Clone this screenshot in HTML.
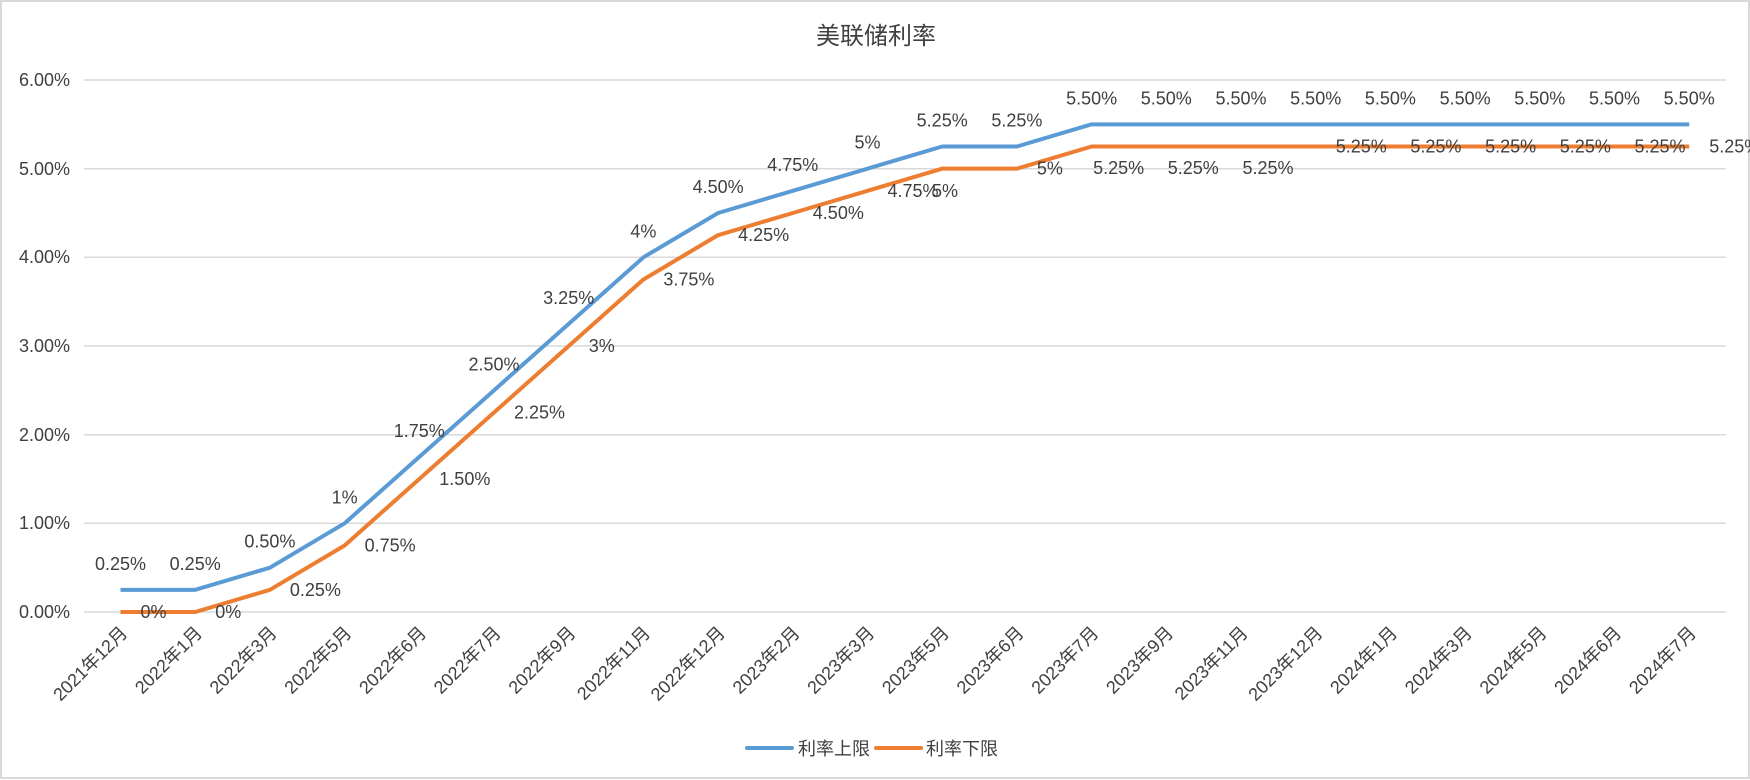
<!DOCTYPE html>
<html><head><meta charset="utf-8"><style>
html,body{margin:0;padding:0;background:#fff}
svg{display:block}
text{font-family:"Liberation Sans","Noto Sans CJK SC",sans-serif;fill:#404040}
</style></head><body>
<svg width="1750" height="780" xmlns="http://www.w3.org/2000/svg">
<rect x="1" y="1" width="1748" height="777" fill="#fff" stroke="#d9d9d9" stroke-width="2"/>
<text x="876" y="44" font-size="24" text-anchor="middle" fill="#595959">美联储利率</text>
<g stroke="#d9d9d9" stroke-width="1.5">
<line x1="84" x2="1726" y1="80" y2="80"/>
<line x1="84" x2="1726" y1="168.7" y2="168.7"/>
<line x1="84" x2="1726" y1="257.3" y2="257.3"/>
<line x1="84" x2="1726" y1="346" y2="346"/>
<line x1="84" x2="1726" y1="434.7" y2="434.7"/>
<line x1="84" x2="1726" y1="523.3" y2="523.3"/>
<line x1="84" x2="1726" y1="612" y2="612"/>
</g>
<g font-size="18" text-anchor="end">
<text x="70" y="86">6.00%</text>
<text x="70" y="175">5.00%</text>
<text x="70" y="263">4.00%</text>
<text x="70" y="352">3.00%</text>
<text x="70" y="441">2.00%</text>
<text x="70" y="529">1.00%</text>
<text x="70" y="618">0.00%</text>
</g>
<script>
(function(){
var ns="http://www.w3.org/2000/svg",svg=document.currentScript.parentNode;
var cats=["2021年12月","2022年1月","2022年3月","2022年5月","2022年6月","2022年7月","2022年9月","2022年11月","2022年12月","2023年2月","2023年3月","2023年5月","2023年6月","2023年7月","2023年9月","2023年11月","2023年12月","2024年1月","2024年3月","2024年5月","2024年6月","2024年7月"];
var up=[0.25,0.25,0.5,1,1.75,2.5,3.25,4,4.5,4.75,5,5.25,5.25,5.5,5.5,5.5,5.5,5.5,5.5,5.5,5.5,5.5];
var lo=[0,0,0.25,0.75,1.5,2.25,3,3.75,4.25,4.5,4.75,5,5,5.25,5.25,5.25,5.25,5.25,5.25,5.25,5.25,5.25];
function X(i){return 120.5+74.7*i}
function Y(v){return 612-88.67*v}
function fmt(v){var s=v.toFixed(2);if(s.slice(-3)==".00")return v.toFixed(0)+"%";return s+"%"}
function el(t,a,txt){var e=document.createElementNS(ns,t);for(var k in a)e.setAttribute(k,a[k]);if(txt!=null)e.textContent=txt;svg.appendChild(e);return e}
var pu=[],pl=[];
for(var i=0;i<22;i++){pu.push(X(i)+","+Y(up[i]));pl.push(X(i)+","+Y(lo[i]));}
el("polyline",{points:pl.join(" "),fill:"none",stroke:"#ED7D31","stroke-width":4,"stroke-linejoin":"round"});
el("polyline",{points:pu.join(" "),fill:"none",stroke:"#5B9BD5","stroke-width":4,"stroke-linejoin":"round"});
for(var i=0;i<22;i++){
 el("text",{x:X(i),y:Y(up[i])-20,"font-size":18,"text-anchor":"middle"},fmt(up[i]));
 var lx=X(i)+20,ly=Y(lo[i])+6,anc="start";
 if(i==11){lx=932;ly=197;}
 if(i>=13&&i<=15){lx=X(i)+27;ly=174;anc="middle";}
 el("text",{x:lx,y:ly,"font-size":18,"text-anchor":anc},fmt(lo[i]));
 el("text",{x:0,y:0,"font-size":18,"text-anchor":"end",transform:"translate("+(X(i)+8)+",634) rotate(-45)"},cats[i]);
}
})();
</script>
<line x1="747" x2="792" y1="748" y2="748" stroke="#5B9BD5" stroke-width="4" stroke-linecap="round"/>
<text x="798" y="755" font-size="18" fill="#595959">利率上限</text>
<line x1="876" x2="921" y1="748" y2="748" stroke="#ED7D31" stroke-width="4" stroke-linecap="round"/>
<text x="926" y="755" font-size="18" fill="#595959">利率下限</text>
</svg>
</body></html>
